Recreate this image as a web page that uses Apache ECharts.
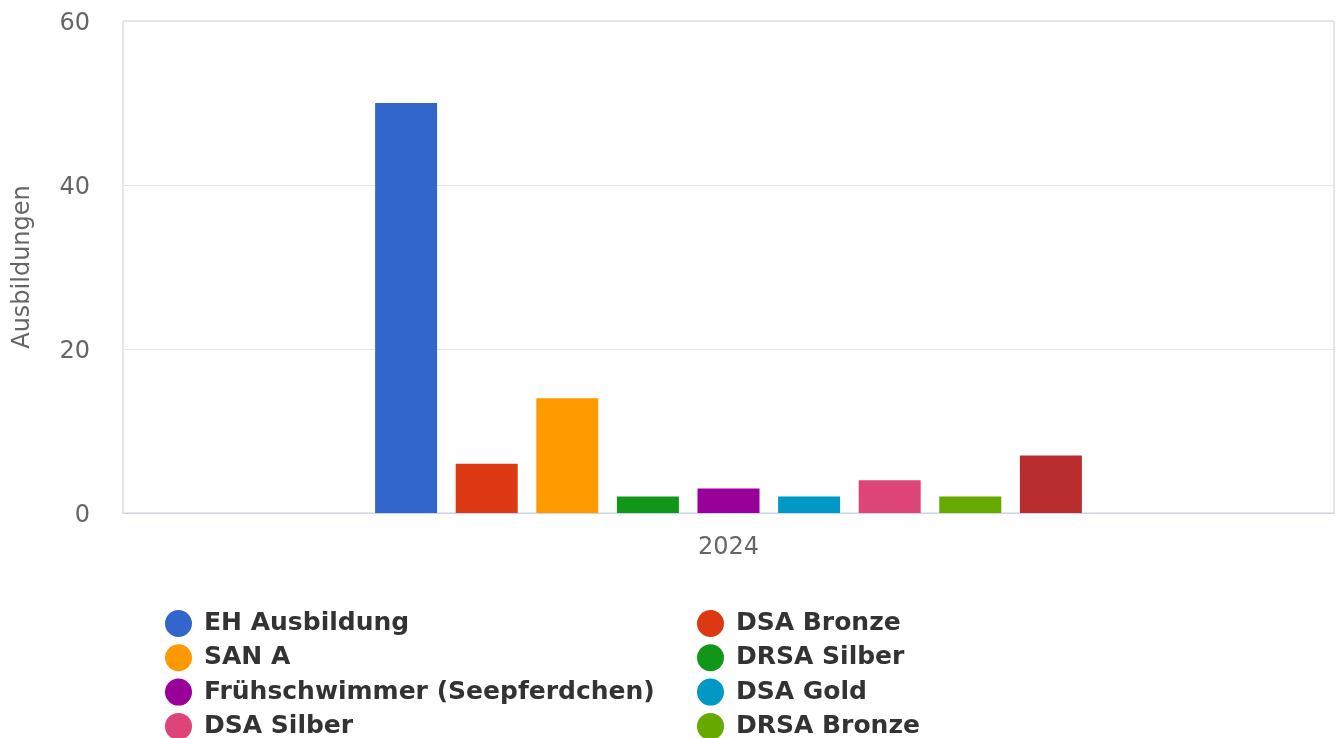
<!DOCTYPE html>
<html>
<head>
<meta charset="utf-8">
<script src="https://cdn.jsdelivr.net/npm/echarts@6/dist/echarts.min.js"></script>
<style>
  html, body { margin: 0; padding: 0; background: #fff; }
  #chart { width: 1339px; height: 738px; }
</style>
</head>
<body>
<div id="chart"></div>
<script>
const categories = ['2024'];
const seriesNames = [
  'EH Ausbildung', 'DSA Bronze', 'SAN A', 'DRSA Silber',
  'Frühschwimmer (Seepferdchen)', 'DSA Gold', 'DSA Silber', 'DRSA Bronze', 'DRSA Gold',
];
const seriesValues = [50, 6, 14, 2, 3, 2, 4, 2, 7];
const seriesColors = [
  '#3366cc', '#dc3912', '#ff9900', '#109618',
  '#990099', '#0099c6', '#dd4477', '#66aa00', '#b82e2e',
];
const yTicks = [0, 20, 40, 60];

const font = 'DejaVu Sans';
const chart = echarts.init(document.getElementById('chart'));

const legendText = {
  fontFamily: font,
  fontWeight: 'bold',
  fontSize: 25,
  lineHeight: 26,
  color: '#333',
  padding: [0, 0, 0, 7],
};

// two stacked columns, like the reference's row-wise two-column legend
const legendColumn = (left, names) => ({
  orient: 'vertical',
  left,
  top: 605,
  height: 200,
  icon: 'circle',
  itemWidth: 27,
  itemHeight: 27,
  itemGap: 7.3,
  textStyle: legendText,
  data: names,
});

chart.setOption({
  backgroundColor: '#fff',
  animation: false,
  color: seriesColors,
  grid: {
    left: 123,
    right: 5,
    top: 21,
    bottom: 738 - 513,
    show: true,
    borderColor: '#cccccc',
    borderWidth: 1,
  },
  legend: [
    legendColumn(160, seriesNames.filter((_, i) => i % 2 === 0)),
    legendColumn(692, seriesNames.filter((_, i) => i % 2 === 1)),
  ],
  xAxis: {
    type: 'category',
    data: categories,
    axisTick: { show: false },
    axisLine: { lineStyle: { color: '#ccd6eb' } },
    axisLabel: { color: '#666', fontFamily: font, fontSize: 24, margin: 23 },
  },
  yAxis: {
    type: 'value',
    min: yTicks[0],
    max: yTicks[yTicks.length - 1],
    interval: 20,
    name: 'Ausbildungen',
    nameLocation: 'middle',
    nameGap: 88,
    nameTextStyle: { color: '#666', fontFamily: font, fontSize: 24 },
    axisLine: { show: false },
    axisTick: { show: false },
    axisLabel: {
      margin: 33,
      formatter: '{v|{value}}',
      rich: {
        v: { color: '#666', fontFamily: font, fontSize: 24, padding: [6, 0, 0, 0] },
      },
    },
    splitLine: { lineStyle: { color: '#e6e6e6' } },
  },
  series: seriesNames.map((name, i) => ({
    name,
    type: 'bar',
    barWidth: 62,
    barGap: '30%',
    itemStyle: { color: seriesColors[i] },
    data: [seriesValues[i]],
  })),
});
</script>
</body>
</html>
